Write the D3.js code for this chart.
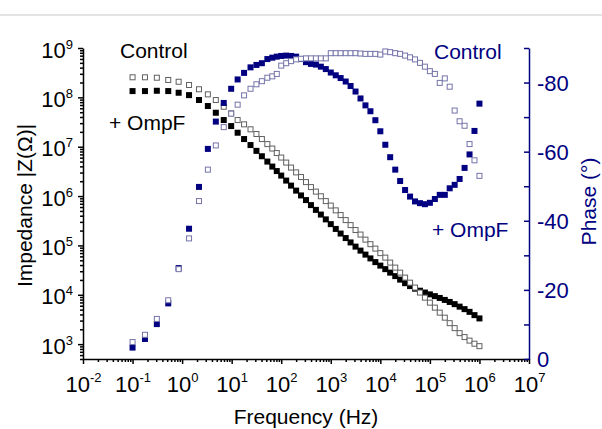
<!DOCTYPE html>
<html>
<head>
<meta charset="utf-8">
<script src="https://cdn.jsdelivr.net/npm/d3@7"></script>
<style>
  body { margin: 0; background: #fff; }
  svg text { font-family: "Liberation Sans", Arial, Helvetica, sans-serif; }
</style>
</head>
<body>
<div class="eis-chart-wrapper"></div>
<script>
// frequency (Hz) of every measured point
var freqs = [0.1, 0.178, 0.309, 0.525, 0.851, 1.38, 2.19, 3.31, 4.79, 6.92,
  9.77, 13.2, 17.8, 24.0, 31.6, 40.7, 52.5, 66.1, 81.3, 100,
  126, 158, 200, 251, 316, 398, 501, 631, 794, 1000,
  1260, 1580, 2000, 2510, 3160, 3980, 5010, 6310, 7940, 1.0e4,
  1.26e4, 1.58e4, 2.0e4, 2.51e4, 3.16e4, 3.98e4, 5.01e4, 6.31e4, 7.94e4, 1.0e5,
  1.26e5, 1.58e5, 2.0e5, 2.51e5, 3.16e5, 3.98e5, 5.01e5, 6.31e5, 7.94e5, 1.0e6];

// |Z| in ohm
var impControl = [2.55e8, 2.55e8, 2.50e8, 2.25e8, 2.07e8, 1.78e8, 1.46e8, 1.15e8, 8.83e7, 6.45e7,
  4.74e7, 3.47e7, 2.84e7, 2.25e7, 1.81e7, 1.43e7, 1.13e7, 9.18e6, 7.44e6, 6.03e6,
  4.77e6, 3.78e6, 3.02e6, 2.43e6, 1.92e6, 1.52e6, 1.23e6, 9.91e5, 7.91e5, 6.41e5,
  5.13e5, 4.12e5, 3.26e5, 2.58e5, 2.05e5, 1.66e5, 1.31e5, 1.06e5, 8.62e4, 6.98e4,
  5.66e4, 4.49e4, 3.55e4, 2.81e4, 2.23e4, 1.76e4, 1.40e4, 1.11e4, 8.75e3, 6.93e3,
  5.49e3, 4.35e3, 3.44e3, 2.66e3, 2.11e3, 1.67e3, 1.39e3, 1.18e3, 1.02e3, 910];

var impOmpF = [1.34e8, 1.34e8, 1.36e8, 1.34e8, 1.24e8, 1.11e8, 8.83e7, 6.67e7, 4.88e7, 3.47e7,
  2.62e7, 1.92e7, 1.43e7, 1.08e7, 8.24e6, 6.41e6, 5.00e6, 3.96e6, 3.21e6, 2.60e6,
  2.06e6, 1.63e6, 1.29e6, 1.03e6, 8.29e5, 6.56e5, 5.25e5, 4.22e5, 3.37e5, 2.70e5,
  2.16e5, 1.74e5, 1.41e5, 1.15e5, 9.46e4, 7.85e4, 6.52e4, 5.46e4, 4.59e4, 3.90e4,
  3.31e4, 2.81e4, 2.39e4, 2.03e4, 1.72e4, 1.50e4, 1.33e4, 1.21e4, 1.11e4, 1.02e4,
  9.39e3, 8.63e3, 7.87e3, 7.16e3, 6.46e3, 5.75e3, 5.12e3, 4.51e3, 3.87e3, 3.32e3];

// phase in degrees
var phaseControl = [-4.9, -7.0, -11.6, -17.0, -26.0, -34.9, -45.7, -54.8, -61.8, -67.1,
  -71.0, -73.6, -76.3, -78.2, -79.5, -80.4, -81.4, -81.8, -82.5, -84.9,
  -85.6, -86.2, -86.7, -86.9, -87.0, -87.0, -87.0, -87.0, -87.0, -88.5,
  -88.5, -88.5, -88.5, -88.5, -88.5, -88.4, -88.3, -88.3, -88.3, -88.1,
  -89.0, -88.8, -88.5, -88.3, -87.8, -87.3, -86.7, -85.7, -84.6, -83.3,
  -82.5, -79.9, -81.2, -78.8, -71.9, -68.8, -67.5, -62.2, -57.5, -53.0];

var phaseOmpF = [-3.3, -5.8, -10.1, -16.1, -26.3, -37.7, -49.8, -60.8, -68.7, -74.1,
  -78.2, -80.9, -82.8, -84.4, -85.1, -85.6, -86.8, -87.2, -87.5, -87.7,
  -87.8, -87.7, -87.5, -86.8, -85.9, -85.4, -85.2, -84.6, -83.9, -82.9,
  -82.1, -81.3, -80.3, -79.0, -77.4, -75.4, -73.4, -71.7, -69.1, -65.9,
  -62.0, -58.4, -54.8, -51.5, -48.9, -47.0, -45.6, -45.1, -44.8, -45.2,
  -46.3, -47.5, -47.5, -49.4, -50.4, -52.1, -55.3, -59.2, -66.0, -73.9];

// ticks
var freqTicks = [1e-2, 1e-1, 1e0, 1e1, 1e2, 1e3, 1e4, 1e5, 1e6, 1e7];
var impTicks = [1e3, 1e4, 1e5, 1e6, 1e7, 1e8, 1e9];
var phaseTicks = [0, -20, -40, -60, -80];
var phaseMinorTicks = [-10, -30, -50, -70, -90];

var NAVY = "#000080";

var margin = {top: 48, right: 73, bottom: 70, left: 83},
  width = 602 - margin.left - margin.right,
  height = 429 - margin.top - margin.bottom;

var x = d3.scaleLog().domain([1e-2, 1e7]).range([0, width]);
var y = d3.scaleLog().domain([500, 1e9]).range([height, 0]);
var yPhase = d3.scaleLinear().domain([0, -90]).range([height, 0]);

// minor log ticks 2..9 of every decade
function minorTicks(scale){
  var d = scale.domain(), out = [];
  for(var e = Math.floor(Math.log10(d[0])); e < Math.log10(d[1]); e++){
    for(var m = 2; m <= 9; m++){
      var v = m * Math.pow(10, e);
      if(v >= d[0] && v <= d[1]) out.push(v);
    }
  }
  return out;
}

function powerLabel(sel, supDy){
  sel.each(function(d){
    var t = d3.select(this);
    t.text(null);
    t.append("tspan").text("10");
    t.append("tspan").attr("dy", supDy).style("font-size", "13px").text(Math.round(Math.log10(d)));
  });
}

function noLabel(){ return ""; }

var svg = d3.select(".eis-chart-wrapper").append("svg")
  .attr("width", 602)
  .attr("height", 429);

svg.append("line")
  .attr("x1", 0).attr("x2", 602)
  .attr("y1", 15).attr("y2", 15)
  .attr("stroke", "#e4e4e4")
  .attr("stroke-width", 2);

var g = svg.append("g")
  .attr("transform", "translate(" + margin.left + "," + margin.top + ")");

// x axis
var xAxis = g.append("g")
  .attr("class", "axis axis--x")
  .attr("transform", "translate(0," + height + ")")
  .call(d3.axisBottom(x).tickValues(freqTicks).tickSize(5).tickSizeOuter(0).tickFormat(noLabel));
xAxis.selectAll(".tick text")
  .attr("y", 32.5).attr("dy", null)
  .style("font-size", "22px")
  .call(powerLabel, -10);
xAxis.append("g")
  .call(d3.axisBottom(x).tickValues(minorTicks(x)).tickSize(3).tickFormat(noLabel))
  .call(function(a){ a.select(".domain").remove(); a.selectAll("text").remove(); });

// left axis
var yAxis = g.append("g")
  .attr("class", "axis axis--y")
  .call(d3.axisLeft(y).tickValues(impTicks).tickSize(5).tickSizeOuter(0).tickPadding(5).tickFormat(noLabel));
yAxis.selectAll(".tick text")
  .attr("y", 9).attr("dy", null)
  .style("font-size", "22px")
  .call(powerLabel, -9);
yAxis.append("g")
  .call(d3.axisLeft(y).tickValues(minorTicks(y)).tickSize(3).tickFormat(noLabel))
  .call(function(a){ a.select(".domain").remove(); a.selectAll("text").remove(); });

// right axis (phase)
var pAxis = g.append("g")
  .attr("class", "axis axis--phase")
  .attr("color", NAVY)
  .attr("transform", "translate(" + width + ",0)")
  .call(d3.axisRight(yPhase).tickValues(phaseTicks).tickSizeInner(-5).tickSizeOuter(0).tickPadding(8)
    .tickFormat(function(d){ return String(d); }));
pAxis.selectAll(".tick text")
  .attr("dy", "0.36em")
  .style("font-size", "22px");
pAxis.append("g")
  .call(d3.axisRight(yPhase).tickValues(phaseMinorTicks).tickSizeInner(-5).tickSizeOuter(0).tickFormat(noLabel))
  .call(function(a){ a.select(".domain").remove(); a.selectAll("text").remove(); });

g.selectAll(".axis path, .axis line").attr("stroke-width", 1.5);

// markers
function drawSquares(values, scale, cls, filled, color){
  var s = filled ? 6 : 5;
  g.selectAll("." + cls)
    .data(values)
    .enter().append("rect")
    .attr("class", cls)
    .attr("x", function(d, i){ return x(freqs[i]) - s / 2; })
    .attr("y", function(d){ return scale(d) - s / 2; })
    .attr("width", s)
    .attr("height", s)
    .attr("fill", filled ? color : "#fff")
    .attr("stroke", filled ? "none" : color)
    .attr("stroke-width", 1);
}

drawSquares(impOmpF, y, "imp-ompf", true, "#000");
drawSquares(impControl, y, "imp-control", false, "#606060");
drawSquares(phaseOmpF, yPhase, "phase-ompf", true, NAVY);
drawSquares(phaseControl, yPhase, "phase-control", false, "#7474aa");

// legend labels
svg.append("text").attr("x", 120).attr("y", 57.5).style("font-size", "21px").text("Control");
svg.append("text").attr("x", 109).attr("y", 129.5).style("font-size", "21px").text("+ OmpF");
svg.append("text").attr("x", 434).attr("y", 58.5).style("font-size", "21px").attr("fill", NAVY).text("Control");
svg.append("text").attr("x", 432).attr("y", 237).style("font-size", "21px").attr("fill", NAVY).text("+ OmpF");

// axis titles
svg.append("text")
  .attr("x", margin.left + width / 2)
  .attr("y", 423.5)
  .attr("text-anchor", "middle")
  .style("font-size", "21px")
  .text("Frequency (Hz)");

svg.append("text")
  .attr("transform", "translate(31.5," + (margin.top + height / 2 + 2) + ") rotate(-90)")
  .attr("text-anchor", "middle")
  .style("font-size", "21px")
  .text("Impedance |Z(\u03A9)|");

svg.append("text")
  .attr("transform", "translate(595.5," + (margin.top + height / 2 - 2) + ") rotate(-90)")
  .attr("text-anchor", "middle")
  .style("font-size", "21px")
  .attr("fill", NAVY)
  .text("Phase (\u00B0)");
</script>
</body>
</html>
